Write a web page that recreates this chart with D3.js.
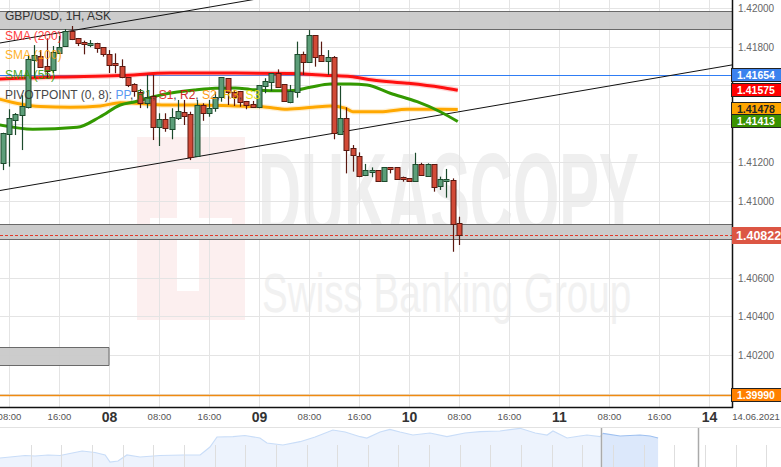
<!DOCTYPE html>
<html><head><meta charset="utf-8">
<script src="https://cdn.jsdelivr.net/npm/d3@7"></script>
<style>
body{margin:0;background:#fff;}
svg{display:block;font-family:"Liberation Sans",Arial,sans-serif;}
</style>
</head><body><svg id="c" width="781" height="467"></svg>
<script>
// ---------------- DATA ----------------
// hour index counted from 7 June 2021 00:00 (trading hours, weekend removed)
const candleHour = [7,8,9,10,11,12,13,14,15,16,17,18,19,20,21,22,23,24,25,26,27,28,29,30,31,32,33,34,35,36,37,38,39,40,41,42,43,44,45,46,47,48,49,50,51,52,53,54,55,56,57,58,59,60,61,62,63,64,65,66,67,68,69,70,71,72,73,74,75,76,77,78,79,80];
const candleOpen = [1.41195,1.41346,1.41420,1.41446,1.41486,1.41732,1.41752,1.41700,1.41680,1.41769,1.41804,1.41882,1.41844,1.41827,1.41813,1.41821,1.41798,1.41761,1.41714,1.41700,1.41642,1.41605,1.41565,1.41507,1.41545,1.41385,1.41425,1.41372,1.41429,1.41460,1.41450,1.41235,1.41498,1.41458,1.41481,1.41538,1.41637,1.41567,1.41571,1.41519,1.41502,1.41489,1.41598,1.41619,1.41663,1.41605,1.41515,1.41564,1.41761,1.41723,1.41861,1.41758,1.41728,1.41746,1.41346,1.41429,1.41273,1.41235,1.41135,1.41155,1.41160,1.41105,1.41174,1.41174,1.41123,1.41117,1.41105,1.41190,1.41131,1.41190,1.41079,1.41109,1.41109,1.40884];
const candleHigh = [1.41354,1.41476,1.41456,1.41549,1.41758,1.41809,1.41783,1.41844,1.41804,1.41856,1.41892,1.41908,1.41846,1.41832,1.41835,1.41821,1.41799,1.41783,1.41766,1.41735,1.41643,1.41611,1.41581,1.41654,1.41654,1.41455,1.41455,1.41481,1.41524,1.41524,1.41463,1.41524,1.41507,1.41524,1.41567,1.41642,1.41637,1.41576,1.41571,1.41519,1.41519,1.41602,1.41637,1.41663,1.41683,1.41605,1.41602,1.41827,1.41775,1.41887,1.41861,1.41827,1.41783,1.41752,1.41597,1.41486,1.41290,1.41252,1.41192,1.41174,1.41160,1.41174,1.41174,1.41174,1.41126,1.41117,1.41250,1.41198,1.41195,1.41190,1.41126,1.41166,1.41117,1.40918];
const candleLow = [1.41160,1.41178,1.41342,1.41264,1.41480,1.41638,1.41690,1.41637,1.41664,1.41763,1.41799,1.41835,1.41804,1.41761,1.41798,1.41769,1.41749,1.41664,1.41663,1.41637,1.41591,1.41541,1.41482,1.41481,1.41316,1.41285,1.41359,1.41320,1.41420,1.41394,1.41212,1.41230,1.41416,1.41437,1.41463,1.41515,1.41498,1.41493,1.41489,1.41476,1.41486,1.41481,1.41559,1.41571,1.41593,1.41515,1.41507,1.41536,1.41654,1.41723,1.41697,1.41723,1.41654,1.41320,1.41342,1.41143,1.41152,1.41123,1.41129,1.41123,1.41100,1.41100,1.41143,1.41109,1.41100,1.41100,1.41105,1.41135,1.41131,1.41048,1.41057,1.41017,1.40736,1.40771];
const candleClose = [1.41354,1.41429,1.41450,1.41494,1.41735,1.41758,1.41694,1.41676,1.41775,1.41801,1.41882,1.41839,1.41821,1.41813,1.41821,1.41795,1.41761,1.41706,1.41706,1.41645,1.41602,1.41571,1.41508,1.41541,1.41385,1.41425,1.41377,1.41434,1.41467,1.41442,1.41230,1.41498,1.41458,1.41481,1.41541,1.41642,1.41567,1.41538,1.41515,1.41498,1.41489,1.41602,1.41623,1.41663,1.41593,1.41519,1.41571,1.41761,1.41723,1.41861,1.41749,1.41728,1.41746,1.41351,1.41429,1.41264,1.41238,1.41131,1.41160,1.41160,1.41105,1.41174,1.41164,1.41114,1.41112,1.41105,1.41190,1.41135,1.41190,1.41074,1.41112,1.41114,1.40880,1.40822];

// moving averages (readings at sample hours)
const sma200Hour = [6.5,16.2,25.8,33.8,44.2,53,59.4,62.6,66.2,71.7,77,79.8];
const sma200Val  = [1.41633,1.41643,1.41651,1.41664,1.41664,1.41662,1.41651,1.41646,1.41628,1.41611,1.41590,1.41575];
const sma100Hour = [6.5,9.8,13,17.8,22.6,25.8,28.2,33,37.8,44.2,48.6,52.5,56.6,59.4,61.8,63,67.4,71.7,77,79.8];
const sma100Val  = [1.41528,1.41503,1.41490,1.41486,1.41493,1.41510,1.41507,1.41498,1.41498,1.41493,1.41489,1.41476,1.41486,1.41493,1.41482,1.41463,1.41463,1.41476,1.41476,1.41475];
const sma55Hour  = [6.5,11.8,18.9,22.6,25.8,28.2,33,37.8,41,44.2,46.6,49.8,53,56.2,59.4,62.6,65.3,69,73.3,77,79.8];
const sma55Val   = [1.41394,1.41372,1.41382,1.41437,1.41498,1.41515,1.41555,1.41576,1.41585,1.41586,1.41579,1.41572,1.41572,1.41590,1.41607,1.41607,1.41602,1.41559,1.41515,1.41463,1.41412];

// trend channel (two points each)
const trendUpperHour = [6.56,123.68], trendUpperVal = [1.41820,1.42471];
const trendLowerHour = [6.56,123.68], trendLowerVal = [1.41054,1.41706];

// grey zones
const zoneBottom = [1.41892,1.40802,1.40148];
const zoneTop    = [1.41986,1.40880,1.40242];
const zoneEndHour = [130,130,24];

// levels
const levelBlue = 1.41654, levelOrange = 1.39990, lastPrice = 1.40822;

// price labels
const tagValues = [1.41654,1.41575,1.41478,1.41413,1.39990];
const tagFill   = ["#3b82ee","#ff0000","#ffa500","#3a9200","#ff8000"];
const tagText   = ["#ffffff","#ffffff","#222222","#ffffff","#ffffff"];

// axis ticks
const priceTicks = [1.420,1.418,1.416,1.414,1.412,1.410,1.408,1.406,1.404,1.402,1.400];
const timeTicks = [8,16,24,32,40,48,56,64,72,80,88,96,104,112,120];
const timeTickLabels = ["08:00","16:00","08","08:00","16:00","09","08:00","16:00","10","08:00","16:00","11","08:00","16:00","14"];
const dateLabel = "14.06.2021";

// navigator overview (days, level)
const navT = [0,0.33,0.82,1.14,1.57,1.96,2.28,2.68,3.10,3.43,3.59,3.85,4.14,4.57,5.22,5.97,6.53,6.85,7.08,7.60,7.99,8.48,8.71,9.23,9.79,10.28,10.86,11.26,11.75,11.97,12.40,12.72,13.05,13.47,14.03,14.58,15.17,15.66,16.31,16.97,17.46,17.85,18.04,18.50,18.92,19.15,19.58,19.67,20.23,20.88,21.21,21.47];
const navV = [9,10,11.5,11,12,11.5,13.5,16,14.5,12,5,6,12,10,11.5,12,12,20,30,30.3,31.5,29,24,22,25.3,30,37,35,30.3,29,35,37.7,35,32,34,30.3,34,35.3,36,38.7,34,32,36,29,31,32,30.3,33.7,31,32,31,29];
const navWindow = [19.61,22.77];

// ---------------- DRAW ----------------
const svg = d3.select("#c");
const W = 781, H = 467, plotR = 732, plotB = 407;
const x = d3.scaleLinear().domain([6.56,123.68]).range([0,plotR]);
const y = d3.scaleLinear().domain([1.402,1.420]).range([355,8.3]);

svg.append("defs").append("clipPath").attr("id","plot")
  .append("rect").attr("x",0).attr("y",0).attr("width",plotR).attr("height",plotB);

// watermark
const wm = svg.append("g");
wm.append("rect").attr("x",137).attr("y",137).attr("width",108).attr("height",183).attr("fill","#fcefef");
wm.append("rect").attr("x",177).attr("y",169).attr("width",22).attr("height",122).attr("fill","#ffffff");
wm.append("rect").attr("x",150).attr("y",218).attr("width",82).attr("height",22).attr("fill","#ffffff");
wm.append("text").text("DUKASCOPY")
  .attr("transform","translate(258,236) scale(0.505,1)")
  .attr("font-size",118).attr("font-weight","bold").attr("fill","#efefef");
wm.append("text").text("Swiss Banking Group")
  .attr("transform","translate(262,312) scale(0.69,1)")
  .attr("font-size",56).attr("fill","#f1f1f1");

const plot = svg.append("g").attr("clip-path","url(#plot)");

// grid
plot.selectAll(".hg").data(priceTicks).join("line")
  .attr("x1",0).attr("x2",plotR)
  .attr("y1",d=>Math.round(y(d))+0.5).attr("y2",d=>Math.round(y(d))+0.5)
  .attr("stroke","#e4e4e4");
plot.selectAll(".vg").data(timeTicks).join("line")
  .attr("x1",d=>Math.round(x(d))+0.5).attr("x2",d=>Math.round(x(d))+0.5)
  .attr("y1",0).attr("y2",plotB).attr("stroke","#e4e4e4");

// zones
zoneBottom.forEach((b,i)=>{
  const x0 = x(6), x1 = x(zoneEndHour[i]);
  const yt = Math.round(y(zoneTop[i]))+0.5, yb = Math.round(y(b))+0.5;
  plot.append("rect").attr("x",x0).attr("y",yt).attr("width",x1-x0).attr("height",yb-yt)
    .attr("fill","#c9c9c9").attr("fill-opacity",0.95);
  plot.append("line").attr("x1",x0).attr("x2",x1).attr("y1",yt).attr("y2",yt).attr("stroke","#6a6a6a");
  plot.append("line").attr("x1",x0).attr("x2",x1).attr("y1",yb).attr("y2",yb).attr("stroke","#6a6a6a");
  if (zoneEndHour[i] < 100) plot.append("line").attr("x1",x1).attr("x2",x1).attr("y1",yt).attr("y2",yb).attr("stroke","#6a6a6a");
});

// levels
plot.append("line").attr("x1",0).attr("x2",plotR)
  .attr("y1",Math.round(y(levelBlue))+0.5).attr("y2",Math.round(y(levelBlue))+0.5)
  .attr("stroke","#2f7df5").attr("stroke-width",1.2);
plot.append("line").attr("x1",0).attr("x2",plotR)
  .attr("y1",Math.round(y(levelOrange))+0.5).attr("y2",Math.round(y(levelOrange))+0.5)
  .attr("stroke","#f08a10").attr("stroke-width",1.5);
plot.append("line").attr("x1",0).attr("x2",plotR)
  .attr("y1",Math.round(y(lastPrice))+0.5).attr("y2",Math.round(y(lastPrice))+0.5)
  .attr("stroke","#e03a2a").attr("stroke-dasharray","3,2");

// trend lines
const tl = d3.line().x(d=>x(d[0])).y(d=>y(d[1]));
plot.append("path").attr("d",tl(trendUpperHour.map((h,i)=>[h,trendUpperVal[i]])))
  .attr("stroke","#111").attr("stroke-width",1).attr("fill","none");
plot.append("path").attr("d",tl(trendLowerHour.map((h,i)=>[h,trendLowerVal[i]])))
  .attr("stroke","#111").attr("stroke-width",1).attr("fill","none");

// SMA lines
const sl = d3.line().x(d=>x(d[0])).y(d=>y(d[1])).curve(d3.curveMonotoneX);
function sma(h,v,col,w,glow){
  const pts = h.map((t,i)=>[t,v[i]]);
  if (glow) plot.append("path").attr("d",sl(pts)).attr("stroke",glow).attr("stroke-width",w+2.5).attr("fill","none").attr("opacity",0.35);
  plot.append("path").attr("d",sl(pts)).attr("stroke",col).attr("stroke-width",w).attr("fill","none");
}
sma(sma100Hour,sma100Val,"#ffa800",3,"#ffd27a");
sma(sma55Hour,sma55Val,"#339900",3,null);
sma(sma200Hour,sma200Val,"#ff1010",3,"#ff8080");

// candles
const cw = 5;
const candles = candleHour.map((h,i)=>({h,o:candleOpen[i],hi:candleHigh[i],lo:candleLow[i],c:candleClose[i]}));
const cg = plot.append("g");
candles.forEach(d=>{
  const up = d.c >= d.o;
  const cx = Math.round(x(d.h))+0.5;
  const wick = up ? "#1c4a2c" : "#5a1810";
  cg.append("line").attr("x1",cx).attr("x2",cx).attr("y1",y(d.hi)).attr("y2",y(d.lo))
    .attr("stroke",wick).attr("stroke-width",1.2);
  const yt = Math.round(y(Math.max(d.o,d.c)))+0.5;
  const yb = Math.max(Math.round(y(Math.min(d.o,d.c)))+0.5, yt+2);
  cg.append("rect").attr("x",cx-cw/2).attr("y",yt).attr("width",cw).attr("height",yb-yt)
    .attr("fill",up?"#5c9e79":"#d24a37").attr("stroke",wick).attr("stroke-width",1);
});

// legend
const lg = svg.append("g").attr("font-size",12);
lg.append("text").attr("x",5).attr("y",20).attr("fill","#333").text("GBP/USD, 1H, ASK");
lg.append("text").attr("x",5).attr("y",39.5).attr("fill","#ff1a1a").attr("opacity",0.85).text("SMA (200)");
lg.append("text").attr("x",5).attr("y",59).attr("fill","#ffa500").attr("opacity",0.85).text("SMA (100)");
lg.append("text").attr("x",5).attr("y",79).attr("fill","#2f9a00").attr("opacity",0.85).text("SMA (55)");
const pv = lg.append("text").attr("x",5).attr("y",99).attr("opacity",0.9);
const pvParts = [["PIVOTPOINT (0, 8): ","#333"],["PP","#4a8ff0"],[", ","#333"],["R1","#2a7a10"],[", ","#333"],["S1","#e02020"],[", ","#333"],["R2","#cc1010"],[", ","#333"],["S2","#ff9000"],[", ","#333"],["R3","#f5b800"],[", ","#333"],["S3","#f0e000"]];
pvParts.forEach(p=>pv.append("tspan").attr("fill",p[1]).text(p[0]));

// axes frames
svg.append("line").attr("x1",plotR+0.5).attr("x2",plotR+0.5).attr("y1",0).attr("y2",plotB+1).attr("stroke","#111").attr("stroke-width",1.5);
svg.append("line").attr("x1",0).attr("x2",plotR+1).attr("y1",plotB+0.5).attr("y2",plotB+0.5).attr("stroke","#111").attr("stroke-width",1.5);

// price axis (labels hidden behind value tags are omitted, as in the original)
const allTags = tagValues.concat([lastPrice]);
const visibleTicks = priceTicks.filter(p => !allTags.some(t => Math.abs(y(t)-y(p)) < 9));
const ya = svg.append("g").attr("transform",`translate(${plotR},0)`)
  .call(d3.axisRight(y).tickValues(visibleTicks).tickFormat(d3.format(".5f")).tickSize(0).tickPadding(6));
ya.select(".domain").remove();
ya.selectAll("text").attr("font-size",10).attr("fill","#666").attr("font-family","Liberation Sans, Arial, sans-serif");

// time axis
const xa = svg.append("g").attr("transform",`translate(0,${plotB})`)
  .call(d3.axisBottom(x).tickValues(timeTicks).tickFormat((d,i)=>timeTickLabels[i]).tickSize(0).tickPadding(0));
xa.select(".domain").remove();
const isDay = d => timeTickLabels[timeTicks.indexOf(d)].length===2;
xa.selectAll("text").attr("font-family","Liberation Sans, Arial, sans-serif").attr("dy",null)
  .attr("y",d=>isDay(d)?14.5:13)
  .attr("font-size",d=>isDay(d)?14:9.5)
  .attr("font-weight",d=>isDay(d)?"bold":"normal")
  .attr("fill",d=>isDay(d)?"#333":"#555");
svg.append("text").attr("x",756).attr("y",420).attr("text-anchor","middle").attr("font-size",9.5).attr("fill","#555").text(dateLabel);

// price tags
tagValues.forEach((v,i)=>{
  const cy = Math.round(y(v));
  svg.append("rect").attr("x",plotR-0.5).attr("y",cy-6.5).attr("width",W-plotR+1).attr("height",13)
    .attr("fill",tagFill[i]).attr("stroke","#222").attr("stroke-width",1);
  svg.append("text").attr("x",plotR+5).attr("y",cy+4).attr("font-size",10.5).attr("font-weight","bold")
    .attr("fill",tagText[i]).text(d3.format(".5f")(v));
});
{
  const cy = Math.round(y(lastPrice));
  svg.append("rect").attr("x",plotR).attr("y",cy-8).attr("width",W-plotR).attr("height",17).attr("fill","#dc5644");
  svg.append("text").attr("x",plotR+4).attr("y",cy+5).attr("font-size",12.5).attr("font-weight","bold")
    .attr("fill","#fff").text(d3.format(".5f")(lastPrice));
}

// navigator
const nav = svg.append("g");
const nx = d3.scaleLinear().domain([0,25.48]).range([0,W]);
const ny = d3.scaleLinear().domain([0,40]).range([467,427]);
nav.append("line").attr("x1",0).attr("x2",W).attr("y1",427.5).attr("y2",427.5).attr("stroke","#e2e2e2");
const navPts = navT.map((t,i)=>[t,navV[i]]);
const area = d3.area().x(d=>nx(d[0])).y0(467).y1(d=>ny(d[1]));
const nline = d3.line().x(d=>nx(d[0])).y(d=>ny(d[1]));
nav.append("path").attr("d",area(navPts.filter(d=>d[0]<=navWindow[0]+0.1))).attr("fill","#edf3fd");
nav.append("path").attr("d",nline(navPts.filter(d=>d[0]<=navWindow[0]+0.1))).attr("stroke","#c9ddf8").attr("fill","none").attr("stroke-width",1.2);
nav.append("path").attr("d",area(navPts.filter(d=>d[0]>=navWindow[0]))).attr("fill","#dce8fb");
nav.append("path").attr("d",nline(navPts.filter(d=>d[0]>=navWindow[0]))).attr("stroke","#9ec0f0").attr("fill","none").attr("stroke-width",1.2);
nav.selectAll(".nt").data(d3.range(1,26)).join("line")
  .attr("x1",d=>Math.round(nx(d))+0.5).attr("x2",d=>Math.round(nx(d))+0.5)
  .attr("y1",445).attr("y2",467).attr("stroke","#dedede");
navWindow.forEach(t=>{
  nav.append("line").attr("x1",Math.round(nx(t))+0.5).attr("x2",Math.round(nx(t))+0.5)
    .attr("y1",428).attr("y2",467).attr("stroke","#aaaaaa").attr("stroke-width",1.5);
});
</script></body></html>
